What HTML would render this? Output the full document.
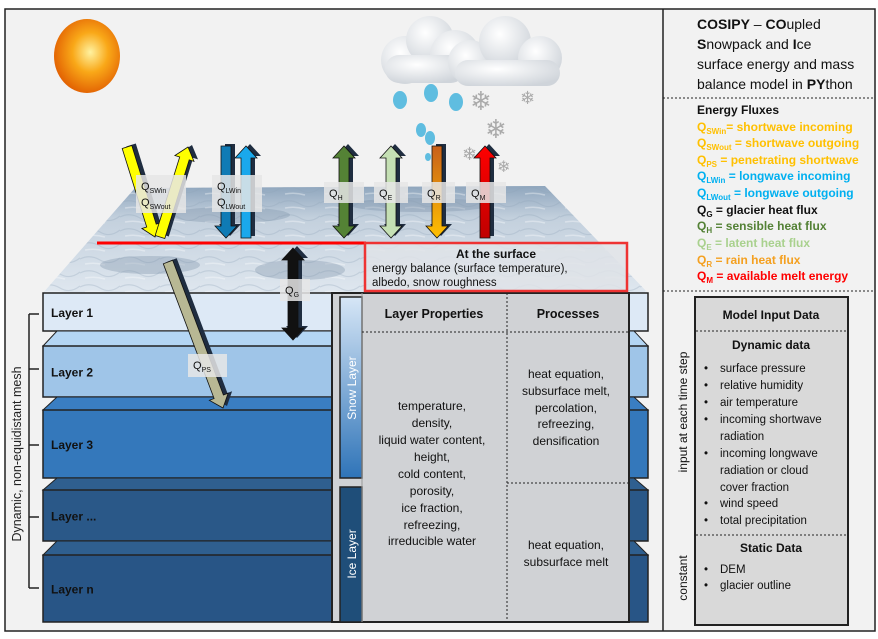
<!DOCTYPE html>
<html><head><meta charset="utf-8"><style>
html,body{margin:0;padding:0;background:#fff}
svg{display:block;font-family:"Liberation Sans",sans-serif}
</style></head><body>
<svg id="s" width="878" height="639" viewBox="0 0 878 639">
<defs>
<radialGradient id="sun" cx="0.55" cy="0.45" r="0.6"><stop offset="0" stop-color="#fff2a0"/><stop offset="0.45" stop-color="#f9a818"/><stop offset="1" stop-color="#e05a00"/></radialGradient>
<radialGradient id="cl" cx="0.4" cy="0.35" r="0.7"><stop offset="0" stop-color="#ffffff"/><stop offset="1" stop-color="#cfd4da"/></radialGradient>
<linearGradient id="surf" x1="0" y1="0" x2="0" y2="1"><stop offset="0" stop-color="#8fa6bd"/><stop offset="0.3" stop-color="#c3d0dd"/><stop offset="1" stop-color="#dfe7ef"/></linearGradient>
<linearGradient id="snow" x1="0" y1="0" x2="0" y2="1"><stop offset="0" stop-color="#d6e6f6"/><stop offset="1" stop-color="#2f74b8"/></linearGradient>
<linearGradient id="qr" x1="0" y1="0" x2="0" y2="1"><stop offset="0" stop-color="#c8601a"/><stop offset="1" stop-color="#ffc000"/></linearGradient>
<linearGradient id="qm" x1="0" y1="0" x2="0" y2="1"><stop offset="0" stop-color="#ff0000"/><stop offset="1" stop-color="#c00000"/></linearGradient>
<pattern id="tex" width="40" height="14" patternUnits="userSpaceOnUse"><path d="M0 7 Q10 2 20 8 T40 6" stroke="#8fa3b8" stroke-width="1.2" fill="none" opacity="0.6"/><path d="M5 12 Q15 10 25 13" stroke="#fff" stroke-width="1.5" fill="none" opacity="0.7"/></pattern>
</defs>
<rect x="5" y="9" width="870" height="622" fill="#f2f2f2" stroke="#222" stroke-width="1.5"/>
<line x1="663" y1="9" x2="663" y2="631" stroke="#222" stroke-width="1.5"/>

<ellipse cx="87" cy="56" rx="33" ry="37" fill="url(#sun)"/>
<g>
<circle cx="405" cy="60" r="24" fill="url(#cl)"/><circle cx="430" cy="40" r="24" fill="url(#cl)"/><circle cx="455" cy="55" r="25" fill="url(#cl)"/><rect x="385" y="55" width="80" height="28" rx="14" fill="url(#cl)"/>
<circle cx="470" cy="62" r="22" fill="url(#cl)"/><circle cx="505" cy="42" r="26" fill="url(#cl)"/><circle cx="540" cy="58" r="22" fill="url(#cl)"/><rect x="455" y="60" width="105" height="26" rx="13" fill="url(#cl)"/>
</g>
<g fill="#5fbde0">
<ellipse cx="400" cy="100" rx="7" ry="9"/><ellipse cx="431" cy="93" rx="7" ry="9"/><ellipse cx="456" cy="102" rx="7" ry="9"/><ellipse cx="421" cy="130" rx="5" ry="7"/><ellipse cx="430" cy="138" rx="5" ry="7"/><ellipse cx="428" cy="157" rx="3" ry="4"/>
</g>
<g fill="#aaa" font-size="26"><text x="470" y="110">❄</text><text x="520" y="104" font-size="18">❄</text><text x="485" y="138">❄</text><text x="462" y="160" font-size="18">❄</text><text x="497" y="172" font-size="16">❄</text></g>

<polygon points="135,188 545,186 648,293 43,293" fill="url(#surf)"/>
<polygon points="135,188 545,186 648,293 43,293" fill="url(#tex)" opacity="0.5"/>
<g fill="#7d93aa" opacity="0.35">
<ellipse cx="230" cy="215" rx="60" ry="8"/><ellipse cx="420" cy="205" rx="70" ry="7"/><ellipse cx="150" cy="265" rx="50" ry="9"/><ellipse cx="300" cy="270" rx="45" ry="10"/>
</g>

<g id="layers"></g>
<g id="bracket" stroke="#222" stroke-width="1.5">
<line x1="29" y1="314" x2="29" y2="588"/><line x1="29" y1="314" x2="39" y2="314"/><line x1="29" y1="369" x2="39" y2="369"/><line x1="29" y1="445" x2="39" y2="445"/><line x1="29" y1="517" x2="39" y2="517"/><line x1="29" y1="588" x2="39" y2="588"/>
</g>
<text transform="translate(21,454) rotate(-90)" text-anchor="middle" font-size="12.5" fill="#222">Dynamic, non-equidistant mesh</text>

<g>
<rect x="332" y="293" width="297" height="329" fill="#d0d2d5" stroke="#222" stroke-width="2"/>
<rect x="340" y="297" width="22" height="181" fill="url(#snow)" stroke="#222" stroke-width="1.5"/>
<rect x="340" y="487" width="22" height="135" fill="#1f4e79" stroke="#222" stroke-width="1.5"/>
<line x1="362" y1="293" x2="362" y2="622" stroke="#999"/>
<line x1="507" y1="293" x2="507" y2="622" stroke="#222" stroke-dasharray="2,2"/>
<line x1="362" y1="332" x2="629" y2="332" stroke="#222" stroke-dasharray="2,2"/>
<line x1="507" y1="483" x2="629" y2="483" stroke="#222" stroke-dasharray="2,2"/>
<text transform="translate(356,388) rotate(-90)" text-anchor="middle" font-size="12" fill="#fff">Snow Layer</text>
<text transform="translate(356,554) rotate(-90)" text-anchor="middle" font-size="12" fill="#fff">Ice Layer</text>
<text x="434" y="318" text-anchor="middle" font-size="12.5" font-weight="bold" fill="#111">Layer Properties</text>
<text x="568" y="318" text-anchor="middle" font-size="12.5" font-weight="bold" fill="#111">Processes</text>
<g font-size="12" fill="#111" text-anchor="middle">
<text x="432" y="410">temperature,</text><text x="432" y="427">density,</text><text x="432" y="444">liquid water content,</text><text x="432" y="461">height,</text><text x="432" y="478">cold content,</text><text x="432" y="495">porosity,</text><text x="432" y="512">ice fraction,</text><text x="432" y="529">refreezing,</text><text x="432" y="545">irreducible water</text>
<text x="566" y="378">heat equation,</text><text x="566" y="395">subsurface melt,</text><text x="566" y="412">percolation,</text><text x="566" y="428">refreezing,</text><text x="566" y="445">densification</text>
<text x="566" y="549">heat equation,</text><text x="566" y="566">subsurface melt</text>
</g>
</g>

<line x1="97" y1="243" x2="366" y2="243" stroke="#ff0000" stroke-width="3"/>
<g>
<rect x="365" y="243" width="262" height="48" fill="#dfe3e8" fill-opacity="0.85" stroke="#ee3333" stroke-width="2.5"/>
<text x="496" y="258" text-anchor="middle" font-size="12" font-weight="bold" fill="#111">At the surface</text>
<text x="372" y="272" font-size="11.5" fill="#111">energy balance (surface temperature),</text>
<text x="372" y="286" font-size="11.5" fill="#111">albedo, snow roughness</text>
</g>

<g id="arrows"></g>
<g id="labels" font-size="11" fill="#111"></g>

<g font-size="14" fill="#111">
<text x="697" y="29"><tspan font-weight="bold">COSIPY</tspan> – <tspan font-weight="bold">CO</tspan>upled</text>
<text x="697" y="49"><tspan font-weight="bold">S</tspan>nowpack and <tspan font-weight="bold">I</tspan>ce</text>
<text x="697" y="69">surface energy and mass</text>
<text x="697" y="89">balance model in <tspan font-weight="bold">PY</tspan>thon</text>
</g>
<line x1="663" y1="98" x2="875" y2="98" stroke="#222" stroke-dasharray="2,2"/>
<g font-size="12" font-weight="bold">
<text x="697" y="114" fill="#111">Energy Fluxes</text>
<text x="697" y="131" fill="#ffc000">Q<tspan font-size="8" dy="3">SWin</tspan><tspan dy="-3">= shortwave incoming</tspan></text>
<text x="697" y="147" fill="#ffc000">Q<tspan font-size="8" dy="3">SWout</tspan><tspan dy="-3"> = shortwave outgoing</tspan></text>
<text x="697" y="164" fill="#ffc000">Q<tspan font-size="8" dy="3">PS</tspan><tspan dy="-3"> = penetrating shortwave</tspan></text>
<text x="697" y="180" fill="#00b0f0">Q<tspan font-size="8" dy="3">LWin</tspan><tspan dy="-3"> = longwave incoming</tspan></text>
<text x="697" y="197" fill="#00b0f0">Q<tspan font-size="8" dy="3">LWout</tspan><tspan dy="-3"> = longwave outgoing</tspan></text>
<text x="697" y="214" fill="#111">Q<tspan font-size="8" dy="3">G</tspan><tspan dy="-3"> = glacier heat flux</tspan></text>
<text x="697" y="230" fill="#538135">Q<tspan font-size="8" dy="3">H</tspan><tspan dy="-3"> = sensible heat flux</tspan></text>
<text x="697" y="247" fill="#a9d18e">Q<tspan font-size="8" dy="3">E</tspan><tspan dy="-3"> = latent heat flux</tspan></text>
<text x="697" y="264" fill="#f4a020">Q<tspan font-size="8" dy="3">R</tspan><tspan dy="-3"> = rain heat flux</tspan></text>
<text x="697" y="280" fill="#ff0000">Q<tspan font-size="8" dy="3">M</tspan><tspan dy="-3"> = available melt energy</tspan></text>
</g>
<line x1="663" y1="291" x2="875" y2="291" stroke="#222" stroke-dasharray="2,2"/>
<g fill="#111">
<rect x="695" y="297" width="153" height="328" fill="#d9d9d9" stroke="#222" stroke-width="2"/>
<text x="771" y="319" text-anchor="middle" font-size="12" font-weight="bold">Model Input Data</text>
<line x1="696" y1="331" x2="847" y2="331" stroke="#222" stroke-dasharray="2,2"/>
<text x="771" y="349" text-anchor="middle" font-size="12" font-weight="bold">Dynamic data</text>
<g font-size="11.5">
<text x="704" y="372">•</text><text x="720" y="372">surface pressure</text>
<text x="704" y="389">•</text><text x="720" y="389">relative humidity</text>
<text x="704" y="406">•</text><text x="720" y="406">air temperature</text>
<text x="704" y="423">•</text><text x="720" y="423">incoming shortwave</text>
<text x="720" y="440">radiation</text>
<text x="704" y="457">•</text><text x="720" y="457">incoming longwave</text>
<text x="720" y="474">radiation or cloud</text>
<text x="720" y="491">cover fraction</text>
<text x="704" y="507">•</text><text x="720" y="507">wind speed</text>
<text x="704" y="524">•</text><text x="720" y="524">total precipitation</text>
</g>
<line x1="696" y1="535" x2="847" y2="535" stroke="#222" stroke-dasharray="2,2"/>
<text x="771" y="552" text-anchor="middle" font-size="12" font-weight="bold">Static Data</text>
<g font-size="11.5"><text x="704" y="573">•</text><text x="720" y="573">DEM</text><text x="704" y="589">•</text><text x="720" y="589">glacier outline</text></g>
</g>
<text transform="translate(687,412) rotate(-90)" text-anchor="middle" font-size="12" fill="#111">input at each time step</text>
<text transform="translate(687,578) rotate(-90)" text-anchor="middle" font-size="12" fill="#111">constant</text>
</svg>
<script>
const NS="http://www.w3.org/2000/svg";
const layerNames=["Layer 1","Layer 2","Layer 3","Layer ...","Layer n"];
const layerTops=[293,331,397,478,541];
const layerBodyTops=[293,346,410,490,555];
const layerBottoms=[331,397,478,541,622];
const layerFaceCol=["#e6f0fa","#b4d6f4","#3a7ec2","#2f5f8f","#2f5f8f"];
const layerBodyCol=["#dde9f6","#9fc5e8","#3478bb","#2a5888","#285586"];
const lg=document.getElementById('layers');
function mk(tag,attrs,parent){const e=document.createElementNS(NS,tag);for(const k in attrs)e.setAttribute(k,attrs[k]);parent.appendChild(e);return e;}
for(let i=0;i<layerNames.length;i++){
  const g=mk('g',{},lg);
  
  
  if(layerBodyTops[i]>layerTops[i]){
    mk('polygon',{points:`43,${layerBodyTops[i]} 57,${layerTops[i]} 634,${layerTops[i]} 648,${layerBodyTops[i]}`,fill:layerFaceCol[i],stroke:'#222','stroke-width':1},g);
  }
  mk('rect',{x:43,y:layerBodyTops[i],width:605,height:layerBottoms[i]-layerBodyTops[i],fill:layerBodyCol[i],stroke:'#222','stroke-width':1.5},g);
  const t=mk('text',{x:51,y:(layerBodyTops[i]+layerBottoms[i])/2+5,'font-size':12,'font-weight':'bold',fill:'#111'},g);
  t.textContent=layerNames[i];
}
const ag=document.getElementById('arrows');
function arrow(x0,y0,x1,y1,w,hw,hl,fill,dbl,name){
  const dx=x1-x0,dy=y1-y0,L=Math.hypot(dx,dy),ux=dx/L,uy=dy/L,nx=-uy,ny=ux;
  const P=(x,y)=>x.toFixed(1)+','+y.toFixed(1);
  const bx=x1-ux*hl,by=y1-uy*hl;
  let pts=[];
  if(dbl){const ax=x0+ux*hl,ay=y0+uy*hl;pts.push(P(x0,y0),P(ax-nx*hw,ay-ny*hw),P(ax-nx*w,ay-ny*w));}
  else pts.push(P(x0-nx*w,y0-ny*w));
  pts.push(P(bx-nx*w,by-ny*w),P(bx-nx*hw,by-ny*hw),P(x1,y1),P(bx+nx*hw,by+ny*hw),P(bx+nx*w,by+ny*w));
  if(dbl){const ax=x0+ux*hl,ay=y0+uy*hl;pts.push(P(ax+nx*w,ay+ny*w),P(ax+nx*hw,ay+ny*hw));}
  else pts.push(P(x0+nx*w,y0+ny*w));
  const g=mk('g',{},ag);
  
  
  mk('polygon',{points:pts.join(' '),fill:'#1f2d40',transform:'translate(4,-2)'},g);
  mk('polygon',{points:pts.join(' '),fill:fill,stroke:'#111','stroke-width':0.8},g);
}
arrow(127,147,155,237,5,10,12,'#ffff00',false,'arrow-sw-in');
arrow(160,237,188,147,5,10,12,'#ffff00',false,'arrow-sw-out');
arrow(226,146,226,238,5,11,12,'#0f7bb5',false,'arrow-lw-in');
arrow(246,238,246,146,5,11,12,'#1aa8ec',false,'arrow-lw-out');
arrow(344,238,344,146,5,11,12,'#548235',true,'arrow-qh');
arrow(391,238,391,146,5,11,12,'#c5e0b4',true,'arrow-qe');
arrow(437,146,437,238,5,11,12,'url(#qr)',false,'arrow-qr');
arrow(485,238,485,146,5,11,12,'url(#qm)',false,'arrow-qm');
arrow(293,248,293,340,5,11,12,'#111',true,'arrow-qg');
arrow(168,262,223,408,5,10,12,'#b8b894',false,'arrow-qps');
const lb=document.getElementById('labels');
const labelBoxes=[[136,175,50,38,["SWin","SWout"],'label-qsw'],[212,175,50,37,["LWin","LWout"],'label-qlw'],[324,182,40,21,["H"],'label-qh'],[374,182,34,21,["E"],'label-qe'],[422,182,33,21,["R"],'label-qr'],[466,182,40,21,["M"],'label-qm'],[280,279,30,22,["G"],'label-qg'],[188,354,39,23,["PS"],'label-qps']];
for(const b of labelBoxes){
  const g=mk('g',{},lb);
  
  
  mk('rect',{x:b[0],y:b[1],width:b[2],height:b[3],fill:'#e6e6e6','fill-opacity':0.85},g);
  b[4].forEach((s,i)=>{const t=mk('text',{x:b[0]+5,y:b[1]+15+i*16},g);t.innerHTML='Q<tspan font-size="7" dy="3">'+s+'</tspan>';});
}
</script>
</body></html>
